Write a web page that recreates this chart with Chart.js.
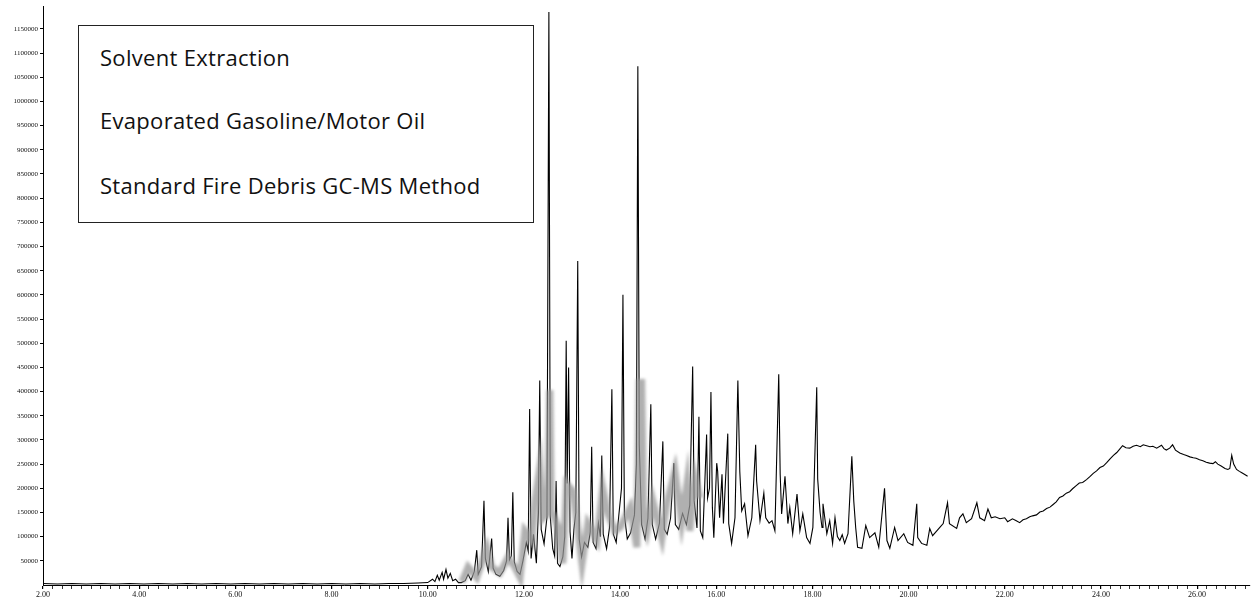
<!DOCTYPE html>
<html>
<head>
<meta charset="utf-8">
<script src="https://cdn.jsdelivr.net/npm/chart.js@4.4.1/dist/chart.umd.min.js"></script>
<style>
  body { margin: 0; background: #fff; }
  #wrap { position: relative; width: 1251px; height: 601px; }
  #note {
    position: absolute; left: 78px; top: 25px; width: 456px; height: 198px;
    box-sizing: border-box; border: 1px solid #222; background: #fff;
    font-family: "Open Sans", sans-serif; font-size: 22px; letter-spacing: 0.3px; color: #111;
  }
  #note div { position: absolute; left: 21px; line-height: 26px; white-space: nowrap; }
</style>
</head>
<body>
<div id="wrap">
  <canvas id="myChart"></canvas>
  <div id="note">
    <div style="top:18px">Solvent Extraction</div>
    <div style="top:81px">Evaporated Gasoline/Motor Oil</div>
    <div style="top:146px">Standard Fire Debris GC-MS Method</div>
  </div>
</div>
<script>
// Axis ranges and ticks
const timeMin = 2.0;
const timeMax = 27.1;
const abundanceMax = 1197000;
const majorTimes = [2, 4, 6, 8, 10, 12, 14, 16, 18, 20, 22, 24, 26];
const abundanceTicks = [50000, 100000, 150000, 200000, 250000, 300000, 350000, 400000,
  450000, 500000, 550000, 600000, 650000, 700000, 750000, 800000, 850000, 900000,
  950000, 1000000, 1050000, 1100000, 1150000];

// Total ion chromatogram: [minutes, abundance]
const blackTrace = [
  [2.00, 3000], [2.3, 2000], [2.6, 3000], [2.9, 2000], [3.2, 3000], [3.5, 2000], [3.8, 3000],
  [4.1, 2000], [4.4, 3000], [4.7, 2000], [5.0, 3000], [5.3, 2000], [5.6, 3000], [5.9, 2000],
  [6.2, 3000], [6.5, 2000], [6.8, 3000], [7.1, 2000], [7.4, 3000], [7.7, 2000], [8.0, 3000],
  [8.3, 2000], [8.6, 3000], [8.9, 2000], [9.2, 3000], [9.5, 3000], [9.8, 4000], [10.0, 5000],
  [10.1, 12000], [10.15, 7000], [10.2, 20000], [10.24, 10000], [10.3, 26000], [10.33, 12000],
  [10.38, 32000], [10.42, 14000], [10.47, 24000], [10.52, 9000], [10.58, 12000], [10.64, 5000],
  [10.7, 5000], [10.78, 9000], [10.84, 22000], [10.9, 10000], [10.97, 28000], [11.02, 72000],
  [11.05, 22000], [11.12, 38000], [11.17, 174000], [11.2, 55000], [11.26, 28000], [11.33, 96000],
  [11.36, 35000], [11.42, 22000], [11.5, 18000], [11.58, 30000], [11.64, 50000], [11.67, 139000],
  [11.7, 52000], [11.74, 60000], [11.77, 192000], [11.8, 48000], [11.86, 28000], [11.92, 22000],
  [11.98, 50000], [12.05, 88000], [12.09, 70000], [12.12, 364000], [12.15, 55000], [12.2, 105000],
  [12.26, 45000], [12.3, 150000], [12.33, 423000], [12.36, 115000], [12.42, 85000], [12.48, 140000],
  [12.52, 1185000], [12.55, 140000], [12.6, 75000], [12.64, 60000], [12.67, 215000], [12.7, 45000],
  [12.75, 38000], [12.81, 58000], [12.85, 100000], [12.88, 505000], [12.9, 210000], [12.93, 450000],
  [12.96, 110000], [13.0, 55000], [13.04, 115000], [13.08, 150000], [13.12, 670000], [13.15, 95000],
  [13.2, 58000], [13.26, 88000], [13.33, 78000], [13.38, 110000], [13.41, 286000], [13.44, 88000],
  [13.5, 75000], [13.55, 128000], [13.59, 100000], [13.62, 268000], [13.65, 105000], [13.72, 75000],
  [13.78, 118000], [13.83, 405000], [13.86, 105000], [13.92, 88000], [13.98, 150000], [14.03, 200000],
  [14.06, 600000], [14.09, 145000], [14.15, 95000], [14.22, 108000], [14.3, 145000], [14.34, 250000],
  [14.37, 1073000], [14.4, 290000], [14.45, 125000], [14.52, 95000], [14.58, 138000], [14.64, 374000],
  [14.67, 125000], [14.74, 95000], [14.82, 128000], [14.89, 297000], [14.92, 115000], [14.98, 105000],
  [15.05, 138000], [15.12, 252000], [15.15, 125000], [15.22, 115000], [15.3, 148000], [15.38, 125000],
  [15.45, 165000], [15.51, 452000], [15.54, 175000], [15.6, 118000], [15.64, 348000], [15.67, 112000],
  [15.72, 98000], [15.8, 311000], [15.82, 180000], [15.86, 200000], [15.89, 399000], [15.92, 160000],
  [15.95, 98000], [16.01, 252000], [16.03, 235000], [16.07, 139000], [16.12, 229000], [16.15, 127000],
  [16.24, 313000], [16.26, 127000], [16.32, 86000], [16.39, 139000], [16.45, 423000], [16.49, 235000],
  [16.53, 153000], [16.59, 168000], [16.66, 102000], [16.74, 139000], [16.82, 290000], [16.84, 215000],
  [16.91, 133000], [16.99, 190000], [17.03, 139000], [17.1, 128000], [17.16, 133000], [17.22, 112000],
  [17.3, 436000], [17.33, 229000], [17.36, 147000], [17.43, 225000], [17.49, 127000], [17.53, 160000],
  [17.59, 106000], [17.68, 188000], [17.74, 112000], [17.8, 147000], [17.88, 98000], [17.95, 86000],
  [18.01, 119000], [18.09, 409000], [18.11, 219000], [18.16, 150000], [18.2, 119000], [18.22, 168000],
  [18.3, 106000], [18.36, 133000], [18.42, 86000], [18.47, 139000], [18.52, 100000], [18.57, 92000],
  [18.62, 104000], [18.67, 86000], [18.74, 106000], [18.82, 266000], [18.86, 174000], [18.9, 119000],
  [18.94, 78000], [19.03, 76000], [19.11, 123000], [19.19, 98000], [19.3, 108000], [19.38, 78000],
  [19.5, 200000], [19.55, 92000], [19.61, 76000], [19.71, 119000], [19.78, 92000], [19.9, 106000],
  [19.98, 88000], [20.09, 82000], [20.17, 168000], [20.19, 98000], [20.27, 86000], [20.38, 82000],
  [20.44, 117000], [20.5, 102000], [20.65, 119000], [20.72, 127000], [20.81, 170000], [20.85, 127000],
  [21.0, 117000], [21.06, 139000], [21.13, 147000], [21.2, 129000], [21.31, 137000], [21.42, 170000],
  [21.48, 139000], [21.58, 133000], [21.65, 157000], [21.72, 139000], [21.8, 141000], [21.9, 137000],
  [22.0, 139000], [22.06, 131000], [22.16, 137000], [22.24, 133000], [22.31, 129000], [22.38, 135000],
  [22.45, 137000], [22.52, 141000], [22.58, 143000], [22.66, 145000], [22.73, 151000], [22.8, 153000],
  [22.87, 158000], [22.94, 161000], [23.0, 166000], [23.07, 172000], [23.14, 181000], [23.21, 184000],
  [23.28, 190000], [23.35, 193000], [23.41, 199000], [23.48, 205000], [23.55, 211000], [23.62, 212000],
  [23.7, 218000], [23.77, 224000], [23.84, 231000], [23.91, 236000], [23.98, 243000], [24.05, 246000],
  [24.12, 253000], [24.19, 261000], [24.26, 268000], [24.33, 274000], [24.39, 281000], [24.45, 288000],
  [24.52, 284000], [24.6, 283000], [24.67, 287000], [24.74, 289000], [24.82, 286000], [24.88, 290000],
  [24.95, 288000], [25.02, 286000], [25.08, 287000], [25.16, 283000], [25.26, 289000], [25.31, 282000],
  [25.36, 279000], [25.43, 283000], [25.49, 290000], [25.55, 279000], [25.64, 273000], [25.72, 270000],
  [25.78, 268000], [25.85, 265000], [25.92, 263000], [25.98, 262000], [26.05, 259000], [26.12, 257000],
  [26.19, 254000], [26.26, 252000], [26.33, 251000], [26.38, 255000], [26.43, 250000], [26.5, 246000],
  [26.58, 241000], [26.64, 239000], [26.68, 241000], [26.72, 268000], [26.76, 250000], [26.82, 239000],
  [26.88, 235000], [26.93, 232000], [27.0, 228000], [27.05, 225000]
];

// Grey overlay trace (the smeared lighter band from 10.7 to 15.7 min)
const greyTrace = [
  [10.71, 6000], [10.84, 37000], [11.02, 16000], [11.23, 76000], [11.33, 37000], [11.5, 25000],
  [11.67, 57000], [11.81, 37000], [11.92, 16000], [12.02, 112000], [12.17, 92000], [12.23, 174000],
  [12.33, 241000], [12.4, 139000], [12.5, 150000], [12.54, 403000], [12.57, 150000], [12.6, 147000],
  [12.71, 119000], [12.81, 45000], [12.89, 209000], [13.02, 194000], [13.21, 45000], [13.33, 127000],
  [13.52, 92000], [13.64, 200000], [13.75, 147000], [13.89, 112000], [14.0, 119000], [14.21, 160000],
  [14.35, 78000], [14.4, 419000], [14.45, 419000], [14.49, 140000], [14.56, 112000], [14.68, 174000],
  [14.87, 98000], [14.97, 168000], [15.14, 235000], [15.28, 133000], [15.39, 209000], [15.45, 112000],
  [15.56, 221000], [15.66, 180000]
];

const ctx = document.querySelector("#myChart");

const toPoints = trace => trace.map(([t, v]) => ({ x: t, y: v }));

// Soften the grey trace so it looks smeared like the scan
const blurGrey = {
  id: "blurGrey",
  beforeDatasetDraw(chart, args) {
    if (args.index === 0) { chart.ctx.save(); chart.ctx.filter = "blur(1.6px)"; }
  },
  afterDatasetDraw(chart, args) {
    if (args.index === 0) chart.ctx.restore();
  }
};

new Chart(ctx, {
  type: "line",
  data: {
    datasets: [
      {
        label: "grey",
        data: toPoints(greyTrace),
        borderColor: "rgba(150,150,150,0.75)",
        borderWidth: 7,
        pointRadius: 0,
        order: 0,
      },
      {
        label: "TIC",
        data: toPoints(blackTrace),
        borderColor: "#000",
        borderWidth: 1.1,
        pointRadius: 0,
        order: 1,
      },
    ]
  },
  options: {
    responsive: true,
    maintainAspectRatio: false,
    animation: false,
    layout: { padding: { left: 0, right: 1, top: 0, bottom: 0 } },
    plugins: { legend: { display: false }, tooltip: { enabled: false } },
    scales: {
      x: {
        type: "linear",
        min: timeMin,
        max: timeMax,
        border: { color: "#000", width: 1 },
        grid: { drawOnChartArea: false, tickLength: 4, color: "#000",
          lineWidth: c => (majorTimes.includes(c.tick.value) ? 1.2 : 0.8) },
        afterBuildTicks: scale => {
          const ticks = [];
          for (let i = 0; i <= 125; i++) ticks.push({ value: Math.round((timeMin + i * 0.2) * 10) / 10 });
          scale.ticks = ticks.filter(t => t.value <= timeMax);
        },
        afterFit: scale => { scale.height = 16; },
        ticks: {
          autoSkip: false,
          maxRotation: 0,
          padding: 1,
          color: "#111",
          font: { family: "Liberation Serif", size: 8 },
          callback: value => (majorTimes.includes(value) ? value.toFixed(2) : "")
        }
      },
      y: {
        min: 0,
        max: abundanceMax,
        border: { color: "#000", width: 1 },
        grid: { drawOnChartArea: false, tickLength: 3, color: "#000" },
        afterBuildTicks: scale => { scale.ticks = abundanceTicks.map(v => ({ value: v })); },
        afterFit: scale => { scale.width = 43; },
        ticks: {
          padding: 2,
          color: "#111",
          font: { family: "Liberation Serif", size: 7 },
          callback: value => String(value)
        }
      }
    }
  },
  plugins: [blurGrey]
});
</script>
</body>
</html>
